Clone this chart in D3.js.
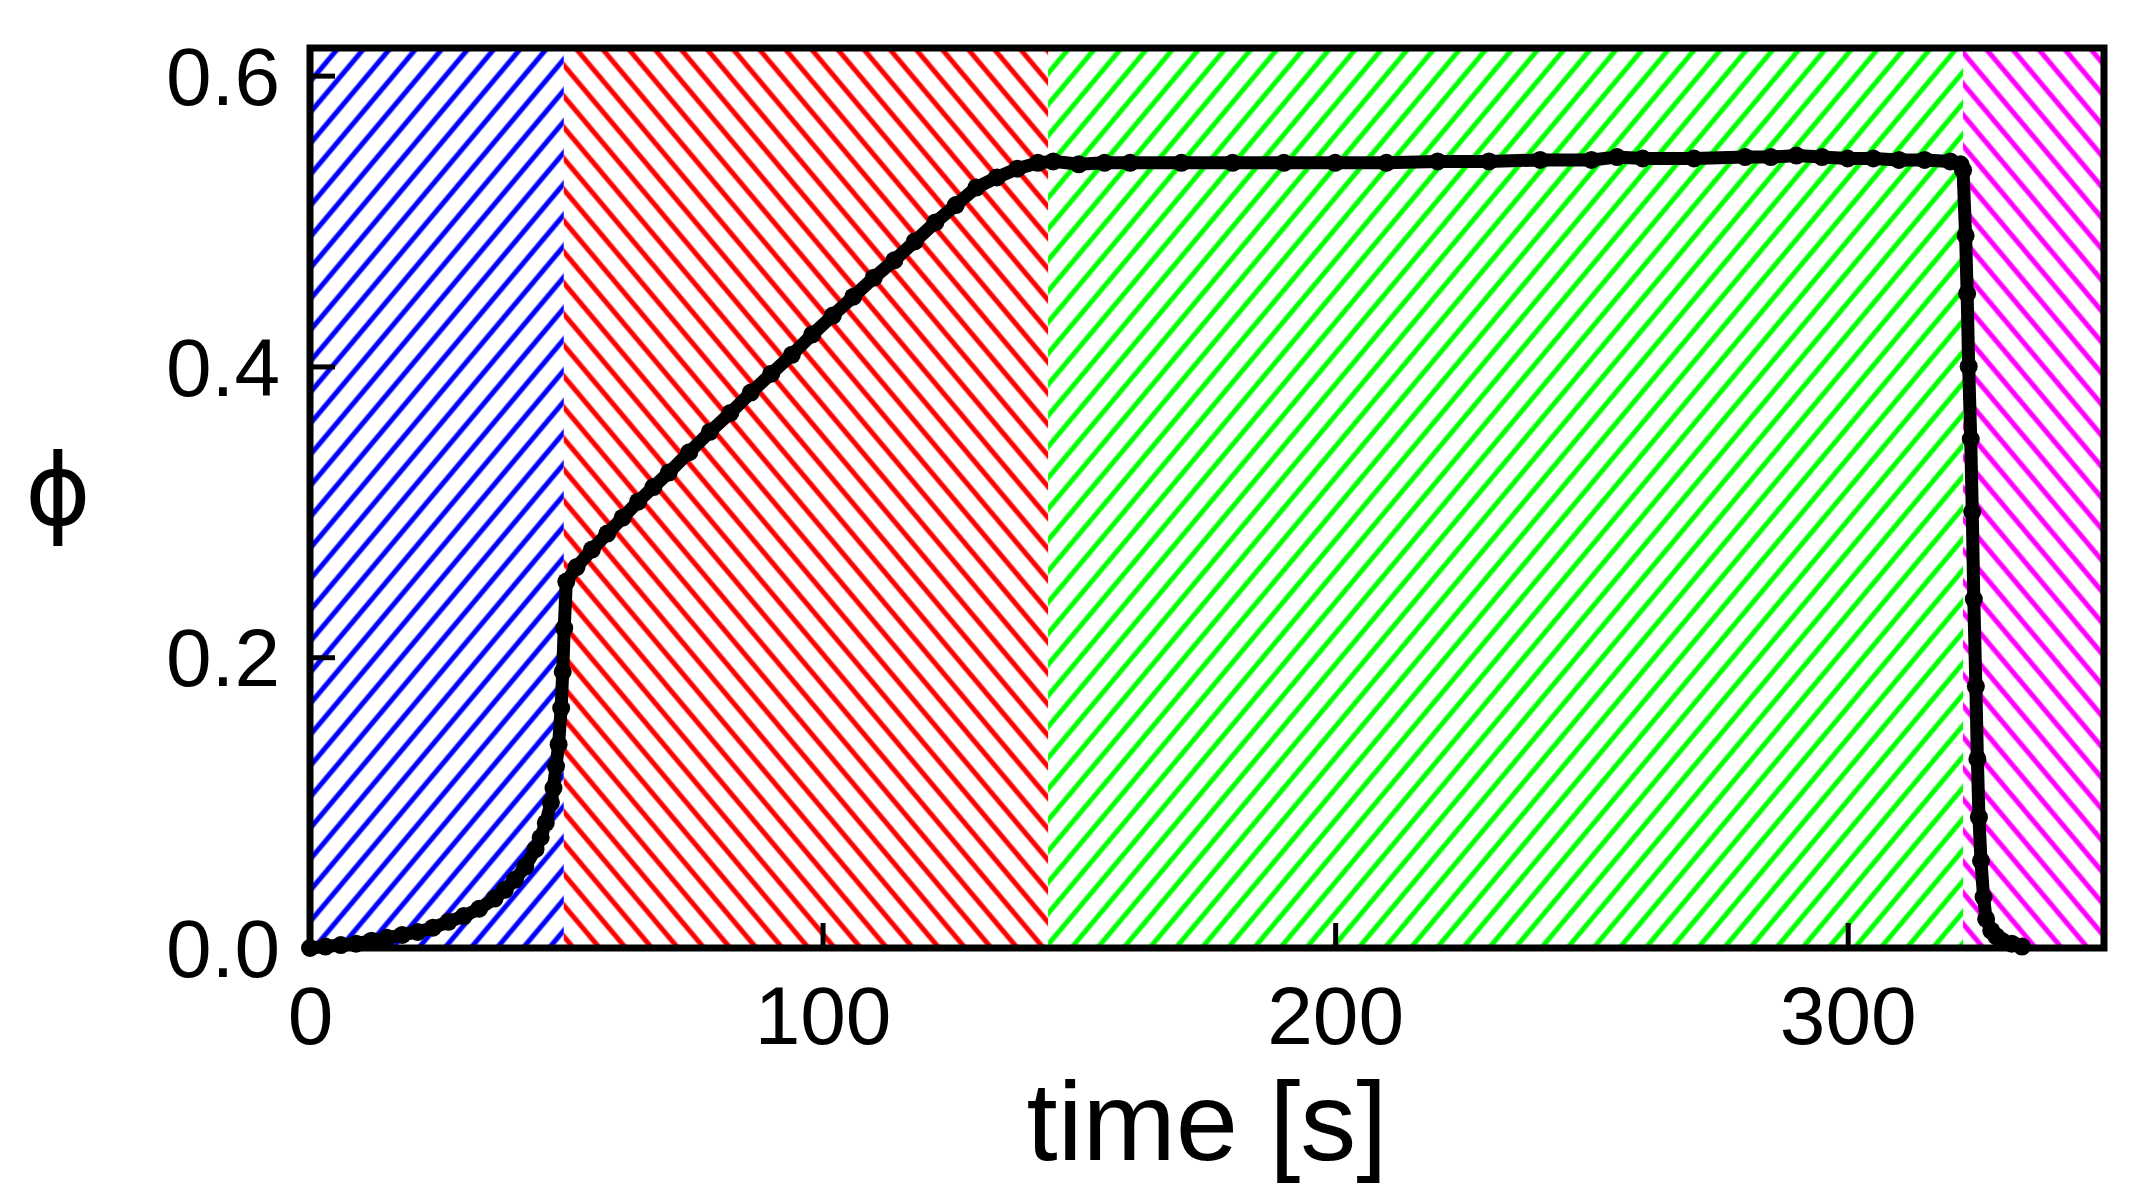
<!DOCTYPE html>
<html><head><meta charset="utf-8">
<script src="https://cdn.jsdelivr.net/npm/d3@7"></script>
<style>body{margin:0;background:#fff}</style>
</head><body><div id="chart"></div>
<script>
// time [s] and phi
const times = [0,3,6,9,12,15,18,21,24,27,30,33,36,38,40,42,44,45,46,47,47.5,48,48.5,49,49.3,49.6,50,
  52,55,58,61,64,67,70,74,78,82,86,90,94,98,102,106,110,114,118,122,126,130,134,138,142,145,
  150,155,160,170,180,190,200,210,220,230,240,250,255,260,270,280,285,290,295,300,305,310,315,320,322,
  322.5,323,323.3,323.6,324,324.3,324.6,325,325.3,325.6,326,326.5,327,328,329,330,332,334];
const phi = [0,0.001,0.002,0.003,0.005,0.007,0.009,0.011,0.014,0.018,0.022,0.027,0.034,0.04,0.047,0.056,0.068,0.076,0.086,0.1,0.11,0.125,0.14,0.165,0.19,0.22,0.252,
  0.262,0.274,0.285,0.296,0.307,0.317,0.327,0.341,0.355,0.368,0.382,0.395,0.408,0.422,0.435,0.448,0.461,0.473,0.486,0.499,0.511,0.523,0.53,0.536,0.54,0.541,
  0.539,0.54,0.54,0.54,0.54,0.54,0.54,0.54,0.541,0.541,0.542,0.542,0.544,0.543,0.543,0.544,0.544,0.545,0.544,0.543,0.543,0.542,0.542,0.541,0.539,
  0.535,0.49,0.45,0.4,0.35,0.3,0.24,0.18,0.13,0.09,0.06,0.035,0.02,0.012,0.008,0.005,0.003,0.001];
const regions = [
  {x0: 0, x1: 49.5, color: "#0000ff", dir: 1},
  {x0: 49.5, x1: 144, color: "#ff0000", dir: -1},
  {x0: 144, x1: 322.5, color: "#00ff00", dir: 1},
  {x0: 322.5, x1: 350, color: "#ff00ff", dir: -1}
];
const xTicks = [0, 100, 200, 300];
const yTicks = [0, 0.2, 0.4, 0.6];

const W = 2129, H = 1198;
const margin = {top: 48, right: 25, bottom: 250, left: 310};
const x = d3.scaleLinear().domain([0, 350]).range([margin.left, W - margin.right]);
const y = d3.scaleLinear().domain([0, 0.619]).range([H - margin.bottom, margin.top]);

const svg = d3.select("#chart").append("svg").attr("width", W).attr("height", H);
const defs = svg.append("defs");

// hatch patterns for the four regions
regions.forEach(function (r, i) {
  const p = defs.append("pattern").attr("id", "h" + i)
    .attr("patternUnits", "userSpaceOnUse").attr("width", 20).attr("height", 20)
    .attr("patternTransform", `rotate(${r.dir * 40})`);
  p.append("line").attr("x1", 10).attr("x2", 10).attr("y1", 0).attr("y2", 20)
    .attr("stroke", r.color).attr("stroke-width", 5);
});

svg.selectAll("rect.reg").data(regions).enter().append("rect")
  .attr("x", d => x(d.x0)).attr("width", d => x(d.x1) - x(d.x0))
  .attr("y", y(0.619)).attr("height", y(0) - y(0.619))
  .attr("fill", (d, i) => `url(#h${i})`);

const pts = times.map((t, i) => [t, phi[i]]);
svg.append("path").datum(pts)
  .attr("d", d3.line().x(d => x(d[0])).y(d => y(d[1])))
  .attr("fill", "none").attr("stroke", "#000").attr("stroke-width", 13);
svg.selectAll("circle").data(pts).enter().append("circle")
  .attr("cx", d => x(d[0])).attr("cy", d => y(d[1])).attr("r", 9).attr("fill", "#000");

// frame
svg.append("rect").attr("x", x(0)).attr("y", y(0.619))
  .attr("width", x(350) - x(0)).attr("height", y(0) - y(0.619))
  .attr("fill", "none").attr("stroke", "#000").attr("stroke-width", 7);

const font = "'Liberation Sans', Arial, sans-serif";
const xAxis = svg.append("g").attr("transform", `translate(0,${y(0)})`)
  .call(d3.axisBottom(x).tickValues(xTicks).tickSize(-25).tickPadding(38).tickFormat(d3.format("d")));
const yAxis = svg.append("g").attr("transform", `translate(${x(0)},0)`)
  .call(d3.axisLeft(y).tickValues(yTicks).tickSize(-25).tickPadding(30).tickFormat(d3.format(".1f")));
[xAxis, yAxis].forEach(function (a) {
  a.select(".domain").remove();
  a.selectAll(".tick line").attr("stroke-width", 5);
  a.selectAll("text").attr("font-family", font).attr("font-size", 82).attr("fill", "#000");
});
xAxis.selectAll("text").attr("dy", "0.71em");
yAxis.selectAll("text").attr("dy", "0.35em");

svg.append("text").attr("x", (x(0) + x(350)) / 2).attr("y", 1160)
  .attr("text-anchor", "middle").attr("font-family", font).attr("font-size", 112)
  .text("time [s]");
svg.append("text").attr("x", 58).attr("y", y(0.31)).attr("text-anchor", "middle")
  .attr("dominant-baseline", "middle").attr("font-family", "'DejaVu Sans', sans-serif").attr("font-size", 100)
  .text("ϕ");
</script></body></html>
